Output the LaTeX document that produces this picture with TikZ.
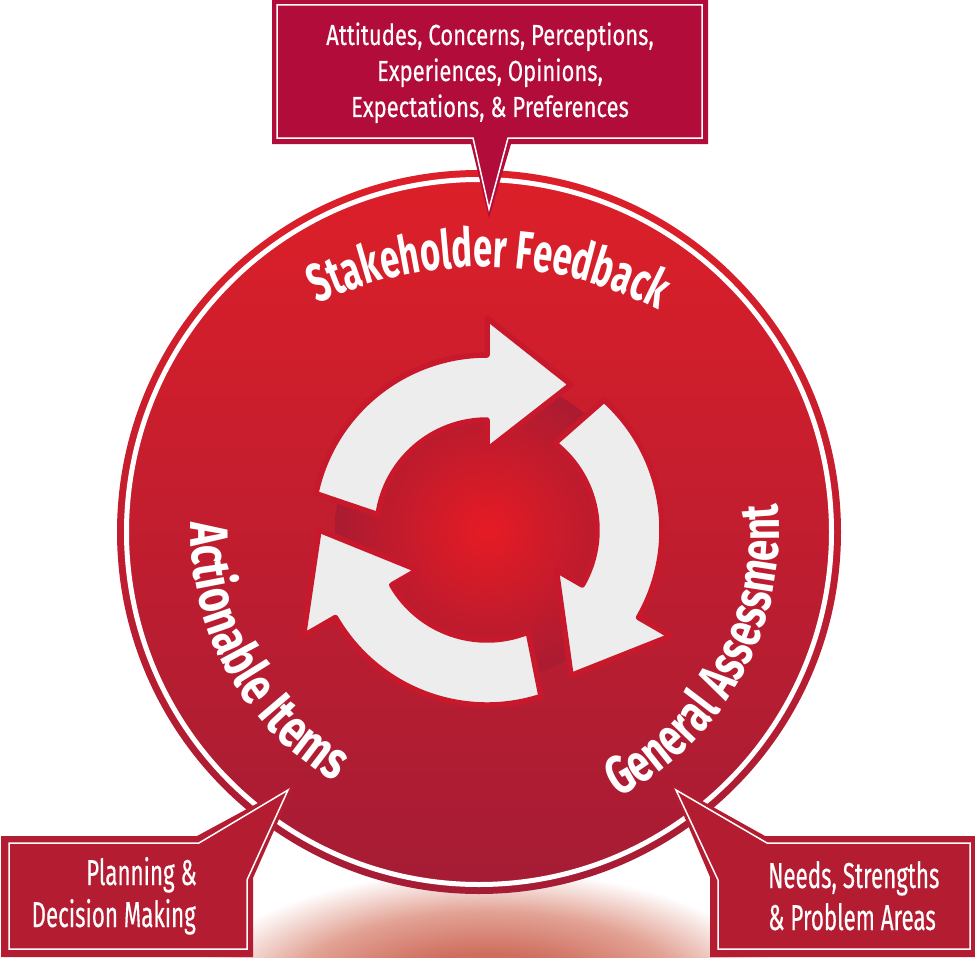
\documentclass[tikz,border=0pt]{standalone}
\usepackage{fontspec}
\usetikzlibrary{decorations.text}
\newfontfamily\cfont{Fira Sans}[FakeStretch=0.76, FakeBold=0.3]
\newfontfamily\bfont{Fira Sans}[FakeStretch=0.62, FakeBold=0.3]
\newfontfamily\hfont{Fira Sans}[FakeStretch=0.64]
\newfontfamily\hfontw{Fira Sans}[FakeStretch=0.71]
\newfontfamily\hfontx{Fira Sans}[FakeStretch=0.75]
\definecolor{ctop}{RGB}{221,31,41}
\definecolor{cbot}{RGB}{165,28,53}
\definecolor{dcen}{RGB}{230,27,36}
\definecolor{dedge}{RGB}{170,27,50}
\definecolor{gcen}{RGB}{207,110,95}
\definecolor{gmid}{RGB}{226,162,148}
\definecolor{calltop}{RGB}{178,12,58}
\definecolor{callbot}{RGB}{180,28,50}
\definecolor{arrowgrey}{RGB}{237,237,237}
\definecolor{arrowedge}{RGB}{200,24,44}
\pgfdeclareradialshading{diskshade}{\pgfpoint{0bp}{0bp}}{color(0bp)=(dcen); color(25bp)=(dedge); color(50bp)=(dedge)}
\pgfdeclareradialshading{groundshade}{\pgfpoint{0bp}{0bp}}{color(0bp)=(gcen); color(9bp)=(gcen); color(17bp)=(gmid); color(25bp)=(white); color(50bp)=(white)}
\tikzset{
  arrowstyle/.style={fill=arrowgrey, draw=arrowedge, line width=5.5, line join=round},
  calloutshape/.style={fill=callbot},
  calloutline/.style={draw=white, line width=1.5, line join=miter},
  toptext/.style={text=white, inner sep=0pt, font=\cfont\fontsize{29}{35}\selectfont},
  bottext/.style={text=white, inner sep=0pt, font=\bfont\fontsize{36}{42}\selectfont},
  heading/.style 2 args={decorate, decoration={text along path, text align=center, text color=white, text={|#1\bfseries\fontsize{54}{64}\selectfont|#2}}}
}
\begin{document}
\begin{tikzpicture}[x=1pt,y=1pt]
\useasboundingbox (0,0) rectangle (975,-958);
\fill[white] (0,0) rectangle (975,-958);
% ground shadow
\begin{scope}
  \clip (0,0) rectangle (975,-958);
  \shade[shading=groundshade] (487,-1000) ellipse [x radius=300, y radius=130];
\end{scope}
% main disc
\shade[top color=ctop, bottom color=cbot] (479,-532) circle[radius=362];
\draw[white, line width=5] (479,-532) circle[radius=352.5];
% inner glow disc
\shade[shading=diskshade] (487,-530) circle[radius=152];
% cycle arrows
\begin{scope}[shift={(487,-530)}]
  \foreach \b in {90,-30,-150}{
    \filldraw[arrowstyle] ({\b+78}:175) arc[start angle={\b+78}, end angle=\b, radius=175]
      -- (\b:212) -- ({\b-30}:168) -- (\b:80) -- (\b:110)
      arc[start angle=\b, end angle={\b+82}, radius=110] -- cycle;
  }
\end{scope}
% curved headings
\begin{scope}[shift={(482,-650)}]
  \path[heading={\hfont}{Stakeholder Feedback}] (130:383) arc[start angle=130, end angle=48, radius=383];
\end{scope}
\begin{scope}[shift={(479,-532)}]
  \path[heading={\hfontx}{Actionable Items}] (156:288) arc[start angle=156, end angle=262, radius=288];
  \path[heading={\hfontw}{General Assessment}] (-78:300) arc[start angle=-78, end angle=21, radius=300];
\end{scope}
% top callout
\path[fill=calltop] (272,2) -- (708,2) -- (708,-144) -- (511,-144) -- (489,-218) -- (471,-144) -- (272,-144) -- cycle;
\path[calloutline] (277,-5) -- (702,-5) -- (702,-138) -- (508,-138) -- (489,-209) -- (473,-138) -- (277,-138) -- cycle;
\node[toptext, anchor=base] (t1) at (490,-45) {Attitudes, Concerns, Perceptions,};
\node[toptext, anchor=base] (t2) at (490,-81) {Experiences, Opinions,};
\node[toptext, anchor=base] (t3) at (490,-117) {Expectations, \& Preferences};
% left callout
\path[calloutshape] (1,-836) -- (197,-836) -- (295,-783) -- (253,-878) -- (253,-957) -- (1,-957) -- cycle;
\path[calloutline] (9,-843) -- (199,-843) -- (288,-790) -- (247,-880) -- (247,-949) -- (9,-949) -- cycle;
\node[bottext, anchor=base east] (l1) at (197,-885) {Planning \&};
\node[bottext, anchor=base east] (l2) at (196,-927) {Decision Making};
% right callout
\path[calloutshape] (975,-836) -- (765,-836) -- (670,-783) -- (710,-877) -- (710,-957) -- (975,-957) -- cycle;
\path[calloutline] (970,-843) -- (767,-843) -- (676,-790) -- (718,-880) -- (718,-949) -- (970,-949) -- cycle;
\node[bottext, anchor=base west] (r1) at (768,-888) {Needs, Strengths};
\node[bottext, anchor=base west] (r2) at (768,-930) {\& Problem Areas};
\end{tikzpicture}
\end{document}
